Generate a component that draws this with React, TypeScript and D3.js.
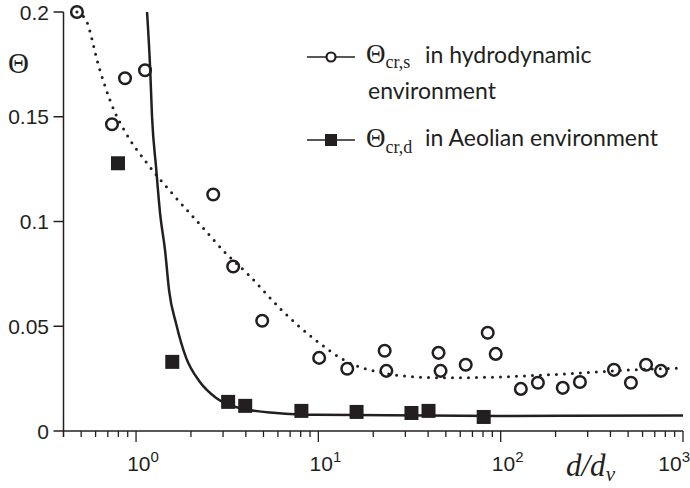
import React from 'react';
import * as d3 from 'd3';

const width = 690;
const height = 488;

// hydrodynamic environment (open circles)
const hydroD = [0.474, 0.738, 0.87, 1.12, 2.65, 3.41, 4.92, 10.1, 14.4, 23.1, 23.6, 45.6, 46.8, 64.3, 84.9, 93.9, 129, 160, 219, 272, 418, 518, 627, 757];
const hydroTheta = [0.2, 0.1464, 0.1684, 0.1722, 0.1129, 0.0785, 0.0526, 0.0349, 0.0297, 0.0383, 0.0287, 0.0373, 0.0287, 0.0316, 0.0469, 0.0368, 0.0201, 0.023, 0.0206, 0.0234, 0.0292, 0.023, 0.0316, 0.0287];

// aeolian environment (filled squares)
const aeolD = [0.796, 1.58, 3.2, 3.97, 8.07, 16.2, 32.4, 40.2, 80.7];
const aeolTheta = [0.1278, 0.033, 0.0139, 0.012, 0.0096, 0.0091, 0.0086, 0.0096, 0.0067];

// fitted curves
const hydroFitD = [0.474, 0.531, 0.626, 0.757, 0.881, 1.149, 1.578, 2.22, 3.12, 4.18, 6.34, 9.75, 14.8, 22.5, 34.5, 52.5, 98.8, 231, 531, 1000];
const hydroFitTheta = [0.2, 0.1962, 0.1737, 0.1531, 0.1421, 0.1278, 0.1134, 0.099, 0.0847, 0.0742, 0.0574, 0.0431, 0.0325, 0.0278, 0.0258, 0.0254, 0.0258, 0.0273, 0.0292, 0.0301];
const aeolFitD = [1.149, 1.194, 1.224, 1.288, 1.355, 1.443, 1.518, 1.659, 1.883, 2.219, 2.752, 3.681, 5.88, 9.75, 98.8, 1000];
const aeolFitTheta = [0.2, 0.1737, 0.1498, 0.1258, 0.1038, 0.0861, 0.067, 0.0512, 0.0349, 0.0239, 0.0158, 0.011, 0.0086, 0.0077, 0.0072, 0.0074];

const yTicks = [0, 0.05, 0.1, 0.15, 0.2];
const yTickLabels = ['0', '0.05', '0.1', '0.15', '0.2'];
const xMajor = [1, 10, 100, 1000];
const xMajorExp = ['0', '1', '2', '3'];

const ink = '#231f20';

const App = () => {
  const x = d3.scaleLog().domain([0.4, 1000]).range([63.5, 683]);
  const y = d3.scaleLinear().domain([0, 0.2]).range([431, 12]);

  const line = d3.line<[number, number]>()
    .x(d => x(d[0]))
    .y(d => y(d[1]))
    .curve(d3.curveMonotoneX);

  const hydroPath = line(hydroFitD.map((d, i) => [d, hydroFitTheta[i]]));
  const aeolPath = line(aeolFitD.map((d, i) => [d, aeolFitTheta[i]]));

  const axisY = 431;
  const axisX = 63.5;

  return (
    <svg width={width} height={height} style={{ position: 'absolute', left: 0, top: 0, background: '#fff' }}>
      {/* axes */}
      <line x1={axisX} x2={axisX} y1={y(0.2)} y2={axisY} stroke={ink} strokeWidth={1.5} />
      <line x1={axisX} x2={x(1000)} y1={axisY} y2={axisY} stroke={ink} strokeWidth={1.5} />

      {yTicks.map((t, i) => (
        <g key={'y' + i}>
          <line x1={axisX - 10} x2={axisX} y1={y(t)} y2={y(t)} stroke={ink} strokeWidth={1.5} />
          <text x={49} y={y(t)} dy="0.36em" textAnchor="end" fontFamily="Liberation Sans, Arial" fontSize={21} fill={ink}>
            {yTickLabels[i]}
          </text>
        </g>
      ))}

      {x.ticks().map((t, i) => {
        const major = Math.abs(Math.log10(t) - Math.round(Math.log10(t))) < 1e-9;
        return (
          <line key={'xt' + i} x1={x(t)} x2={x(t)} y1={axisY} y2={axisY + (major ? 11 : 6)} stroke={ink} strokeWidth={1.3} />
        );
      })}
      <line x1={axisX} x2={axisX} y1={axisY} y2={axisY + 6} stroke={ink} strokeWidth={1.3} />

      {xMajor.map((t, i) => {
        const last = i === xMajor.length - 1;
        return (
          <text key={'xl' + i} x={last ? 690 : x(t) + 7} y={471} textAnchor={last ? 'end' : 'middle'}
            fontFamily="Liberation Sans, Arial" fontSize={21} fill={ink}>
            10<tspan fontSize={15} dy={-9}>{xMajorExp[i]}</tspan>
          </text>
        );
      })}

      {/* axis titles */}
      <text x={8} y={73} fontFamily="Liberation Serif, serif" fontSize={29} fill={ink}>Θ</text>
      <text x={566} y={476} fontFamily="Liberation Serif, serif" fontStyle="italic" fontSize={31} fill={ink}>
        d/d<tspan fontSize={21} dy={5}>ν</tspan>
      </text>

      {/* fitted curves */}
      <path d={hydroPath ?? ''} fill="none" stroke={ink} strokeWidth={3} strokeDasharray="0 8" strokeLinecap="round" />
      <path d={aeolPath ?? ''} fill="none" stroke={ink} strokeWidth={2.5} />

      {/* data */}
      {hydroD.map((d, i) => (
        <circle key={'h' + i} cx={x(d)} cy={y(hydroTheta[i])} r={5.8} fill="none" stroke={ink} strokeWidth={2.5} />
      ))}
      {aeolD.map((d, i) => (
        <rect key={'a' + i} x={x(d) - 7} y={y(aeolTheta[i]) - 7} width={14} height={14} fill={ink} />
      ))}

      {/* legend */}
      <g>
        <line x1={307} x2={355} y1={57} y2={57} stroke={ink} strokeWidth={1.5} />
        <circle cx={331} cy={57} r={4.5} fill="#fff" stroke={ink} strokeWidth={2.2} />
        <text x={366} y={63} fontFamily="Liberation Serif, serif" fontSize={27} fill={ink}>
          Θ<tspan fontSize={18} dy={5}>cr,s</tspan>
        </text>
        <text x={425} y={63} fontFamily="Lato, sans-serif" fontSize={23} fill={ink}>in hydrodynamic</text>
        <text x={368} y={99} fontFamily="Lato, sans-serif" fontSize={23} fill={ink}>environment</text>

        <line x1={307} x2={355} y1={140} y2={140} stroke={ink} strokeWidth={1.5} />
        <rect x={325} y={134} width={12} height={12} fill={ink} />
        <text x={366} y={147} fontFamily="Liberation Serif, serif" fontSize={27} fill={ink}>
          Θ<tspan fontSize={18} dy={6}>cr,d</tspan>
        </text>
        <text x={425} y={146} fontFamily="Lato, sans-serif" fontSize={23} fill={ink}>in Aeolian environment</text>
      </g>
    </svg>
  );
};

export default App;
